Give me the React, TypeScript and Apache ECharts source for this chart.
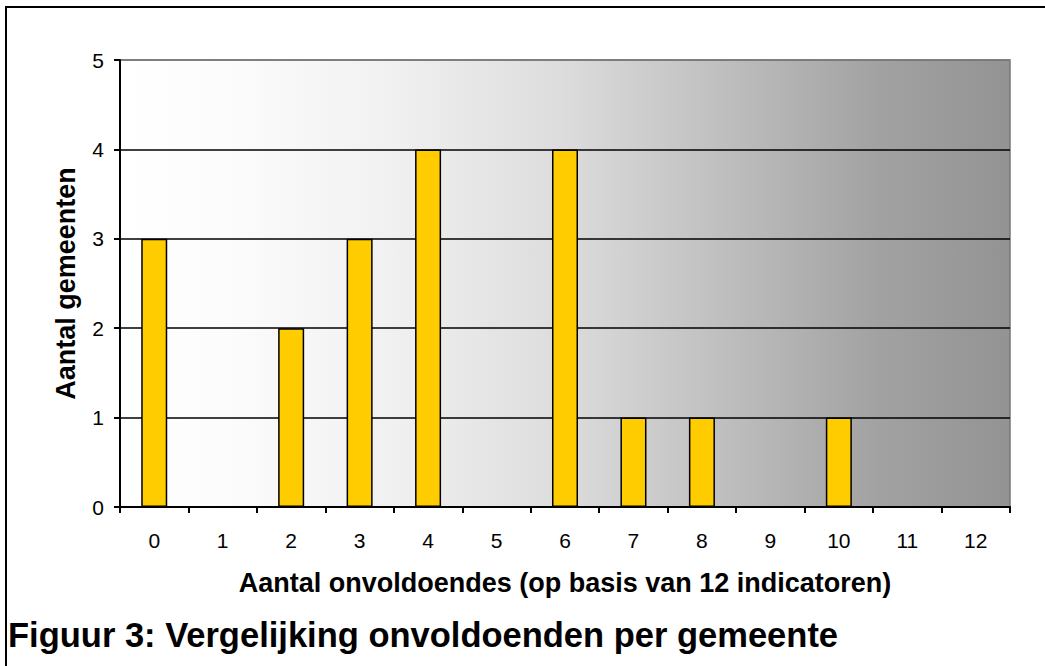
import React, { useEffect, useRef } from "react";
import * as echarts from "echarts";

// Number of failing indicators (out of 12) and how many municipalities scored each
const categories = ["0", "1", "2", "3", "4", "5", "6", "7", "8", "9", "10", "11", "12"];
const municipalityCounts = [3, 0, 2, 3, 4, 0, 4, 1, 1, 0, 1, 0, 0];
const yTicks = [0, 1, 2, 3, 4, 5];

const xTitle = "Aantal onvoldoendes (op basis van 12 indicatoren)";
const yTitle = "Aantal gemeenten";
const caption = "Figuur 3: Vergelijking onvoldoenden per gemeente";

const FONT = "'Liberation Sans', Arial, sans-serif";

export default function App() {
  const ref = useRef<HTMLDivElement>(null);

  useEffect(() => {
    if (!ref.current) return;
    const chart = echarts.init(ref.current, null, { renderer: "svg" });

    const plotFill = new echarts.graphic.LinearGradient(0, 0, 1, 0, [
      { offset: 0, color: "#ffffff" },
      { offset: 0.12, color: "#fcfcfc" },
      { offset: 0.3, color: "#f1f1f1" },
      { offset: 0.5, color: "#dcdcdc" },
      { offset: 0.7, color: "#bbbbbb" },
      { offset: 0.85, color: "#a2a2a2" },
      { offset: 1, color: "#939393" },
    ]);

    chart.setOption({
      animation: false,
      backgroundColor: "#ffffff",
      textStyle: { fontFamily: FONT },
      grid: {
        left: 120,
        top: 60,
        width: 890,
        height: 447,
        show: true,
        backgroundColor: plotFill,
        borderColor: "#777777",
        borderWidth: 1.5,
      },
      xAxis: {
        type: "category",
        data: categories,
        boundaryGap: true,
        name: xTitle,
        nameLocation: "middle",
        nameGap: 62,
        nameTextStyle: { fontFamily: FONT, fontSize: 27, fontWeight: "bold", color: "#000" },
        axisLine: { show: true, lineStyle: { color: "#000", width: 2 } },
        axisTick: { show: true, alignWithLabel: false, length: 6, lineStyle: { color: "#000", width: 2 } },
        axisLabel: { margin: 23, fontFamily: FONT, fontSize: 21, color: "#000" },
        splitLine: { show: false },
      },
      yAxis: {
        type: "value",
        min: yTicks[0],
        max: yTicks[yTicks.length - 1],
        interval: 1,
        name: yTitle,
        nameLocation: "middle",
        nameRotate: 90,
        nameGap: 41,
        nameTextStyle: { fontFamily: FONT, fontSize: 27, fontWeight: "bold", color: "#000" },
        axisLine: { show: true, lineStyle: { color: "#000", width: 2 } },
        axisTick: { show: true, length: 6, lineStyle: { color: "#000", width: 2 } },
        axisLabel: { margin: 16, fontFamily: FONT, fontSize: 21, color: "#000" },
        splitLine: {
          show: true,
          lineStyle: { color: ["#000", "#000", "#000", "#000", "#000", "#777777"], width: 1.5 },
        },
      },
      series: [
        {
          type: "bar",
          data: municipalityCounts,
          barWidth: "38%",
          itemStyle: { color: "#ffcc00", borderColor: "#000", borderWidth: 1.5 },
        },
      ],
      graphic: [
        {
          type: "rect",
          shape: { x: 6, y: 7, width: 1100, height: 700 },
          style: { fill: "none", stroke: "#000", lineWidth: 2 },
          silent: true,
          z: 100,
        },
        {
          type: "text",
          left: 8,
          top: 617,
          style: {
            text: caption,
            font: `bold 34.5px ${FONT}`,
            fill: "#000",
          },
        },
      ],
    });

    return () => chart.dispose();
  }, []);

  return (
    <div
      ref={ref}
      style={{ position: "fixed", left: 0, top: 0, width: 1045, height: 666, background: "#fff" }}
    />
  );
}
